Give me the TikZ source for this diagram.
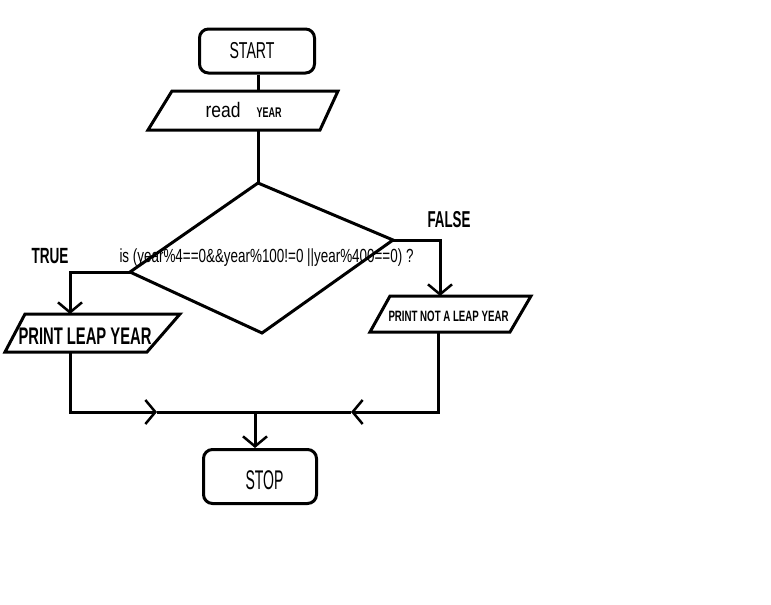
\documentclass[tikz,border=0pt]{standalone}
\usepackage{fontspec}
\setmainfont{Liberation Sans}
\usepackage{graphicx}
\usetikzlibrary{arrows.meta}
\newcommand{\fitw}[2]{\resizebox{#1}{\height}{#2}}
\begin{document}
\begin{tikzpicture}[x=1pt,y=-1pt,
  line width=3pt, line join=miter,
  termbox/.style={draw, rounded corners=9pt, inner sep=0pt},
  shapeline/.style={draw, line width=3pt},
  lbl/.style={inner sep=0pt, anchor=base west},
  arr/.style={-{Straight Barb[length=10pt,width=24pt,line width=2.5pt]}},
  conn/.style={draw, line width=3pt}]
\useasboundingbox (0,0) rectangle (771,605);
\fill[white] (0,0) rectangle (771,605);

% START
\node[termbox, minimum width=115pt, minimum height=44pt] (start) at (257,51) {};
\node[lbl, font=\fontsize{23}{23}\selectfont] (starttxt) at (228,58) {\fitw{45pt}{START}};

% read YEAR parallelogram
\coordinate (r1) at (172,91);
\coordinate (r2) at (338,91);
\coordinate (r3) at (320,130);
\coordinate (r4) at (148,130);
\path[shapeline] (r1) -- (r2) -- (r3) -- (r4) -- cycle;
\coordinate (readtop) at (258,91);
\coordinate (readbot) at (258,130);
\node[lbl, font=\fontsize{21}{21}\selectfont] (readtxt) at (204,117) {\fitw{35pt}{read}};
\node[lbl, font=\bfseries\fontsize{14}{14}\selectfont] (yeartxt) at (255,117) {\fitw{25pt}{YEAR}};

% decision
\coordinate (dt) at (258,183);
\coordinate (dr) at (393,240);
\coordinate (db) at (262,333);
\coordinate (dl) at (130,272);
\path[shapeline] (dt) -- (dr) -- (db) -- (dl) -- cycle;
\node[lbl, font=\fontsize{19}{19}\selectfont] (cond) at (118,262)
  {\fitw{294pt}{is (year\%4==0\&\&year\%100!=0 ||year\%400==0) ?}};

\node[lbl, font=\bfseries\fontsize{22}{22}\selectfont] (truetxt) at (30,263) {\fitw{37pt}{TRUE}};
\node[lbl, font=\bfseries\fontsize{23}{23}\selectfont] (falsetxt) at (426,227) {\fitw{43pt}{FALSE}};

% PRINT LEAP YEAR
\coordinate (p1) at (25,314);
\coordinate (p2) at (180,314);
\coordinate (p3) at (147,352);
\coordinate (p4) at (5,352);
\path[shapeline] (p1) -- (p2) -- (p3) -- (p4) -- cycle;
\coordinate (ptop) at (70,314);
\coordinate (pbot) at (70,352);
\node[lbl, font=\bfseries\fontsize{24}{24}\selectfont] (leaptxt) at (17,344) {\fitw{133pt}{PRINT LEAP YEAR}};

% PRINT NOT A LEAP YEAR
\coordinate (q1) at (390,296);
\coordinate (q2) at (531,296);
\coordinate (q3) at (510,332);
\coordinate (q4) at (370,332);
\path[shapeline] (q1) -- (q2) -- (q3) -- (q4) -- cycle;
\coordinate (qtop) at (440,296);
\coordinate (qbot) at (438,332);
\node[lbl, font=\bfseries\fontsize{15}{15}\selectfont] (notleaptxt) at (387,321) {\fitw{120pt}{PRINT NOT A LEAP YEAR}};

% STOP
\node[termbox, minimum width=113pt, minimum height=54pt] (stop) at (260,476.5) {};
\node[lbl, font=\fontsize{27}{27}\selectfont] (stoptxt) at (244,489) {\fitw{38pt}{STOP}};

% connectors
\path[conn] (start.south -| readtop) -- (readtop);
\path[conn] (readbot) -- (dt);
\draw[arr] (dl) -- (ptop |- dl) -- (ptop);
\draw[arr] (dr) -- (qtop |- dr) -- (qtop);
\coordinate (m1) at (157,412);
\coordinate (m2) at (351,412);
\coordinate (join) at (255,412);
\draw[arr] (pbot) |- (m1);
\path[conn] (m1) -- (m2);
\draw[arr] (qbot) |- (m2);
\draw[arr] (join) -- (stop.north -| join);
\end{tikzpicture}
\end{document}
